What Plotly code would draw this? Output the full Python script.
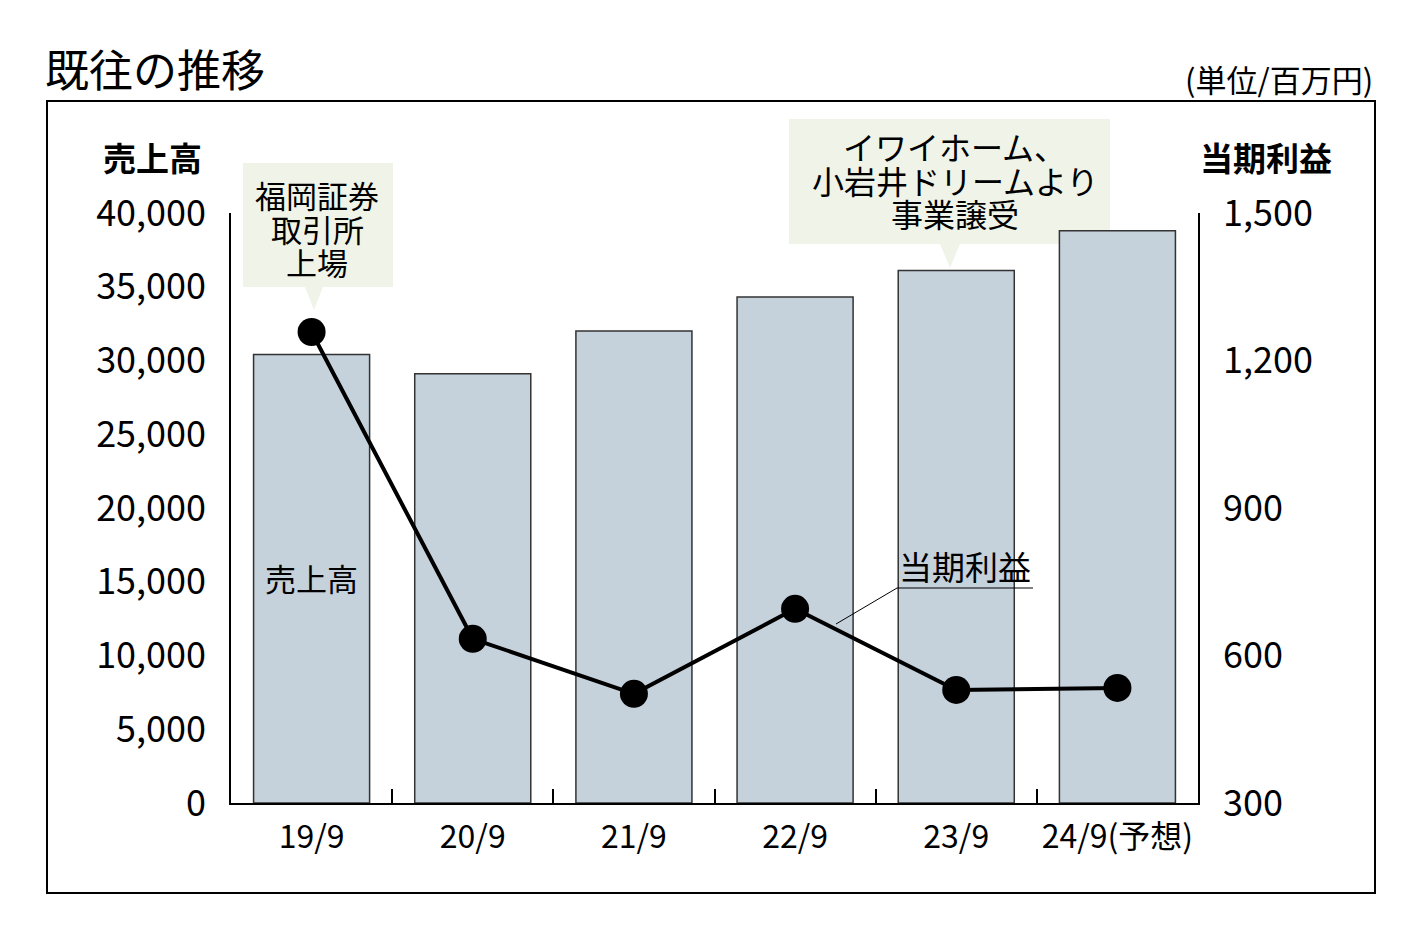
import plotly.graph_objects as go

categories = ["19/9", "20/9", "21/9", "22/9", "23/9", "24/9(予想)"]
sales = [30400, 29100, 32000, 34300, 36100, 38800]
profit = [1258, 634, 522, 695, 530, 534]
left_ticks = [0, 5000, 10000, 15000, 20000, 25000, 30000, 35000, 40000]
right_ticks = [300, 600, 900, 1200, 1500]

OFF = 8  # default page body margin
W, H = 1417 - 2 * OFF, 943 - 2 * OFF
FONT = "Noto Sans CJK JP"

def px(x):
    return (x - OFF) / W

def py(y):
    return 1 - (y - OFF) / H

fig = go.Figure()
fig.add_trace(go.Bar(
    x=categories, y=sales, width=0.72,
    marker=dict(color="rgb(197,209,219)", line=dict(color="#333333", width=1.5)),
    showlegend=False, hoverinfo="skip"))
fig.add_trace(go.Scatter(
    x=categories, y=profit, yaxis="y2", mode="lines+markers",
    line=dict(color="black", width=4),
    marker=dict(color="black", size=28),
    showlegend=False, hoverinfo="skip"))

fig.update_layout(
    width=W, height=H,
    margin=dict(l=0, r=0, t=0, b=0),
    paper_bgcolor="white", plot_bgcolor="white",
    font=dict(family=FONT, color="black"),
    xaxis=dict(domain=[px(231), px(1198)], showline=True, linecolor="black", linewidth=2,
               ticks="inside", tickson="boundaries", ticklen=14, tickcolor="black", tickwidth=1.5,
               tickfont=dict(size=32, family=FONT), ticklabelstandoff=5, tickangle=0,
               showgrid=False, automargin=False),
    yaxis=dict(domain=[py(803), py(213)], range=[0, 40000], tickvals=left_ticks,
               ticktext=[f"{v:,}" for v in left_ticks], showline=True, linecolor="black",
               linewidth=1.5, ticks="", showgrid=False, zeroline=False,
               tickfont=dict(size=36, family=FONT), ticklabelstandoff=16, automargin=False),
    yaxis2=dict(overlaying="y", side="right", range=[300, 1500], tickvals=right_ticks,
                ticktext=[f"{v:,}" for v in right_ticks], showline=True, linecolor="black",
                linewidth=1.5, ticks="", showgrid=False, zeroline=False,
                tickfont=dict(size=36, family=FONT), ticklabelstandoff=16, automargin=False),
)

shapes = []
# outer frame
shapes.append(dict(type="rect", xref="paper", yref="paper", x0=px(47), x1=px(1375),
                   y0=py(893), y1=py(101), line=dict(color="black", width=2)))
callout_fill = "rgb(240,244,232)"
# callout 1
shapes.append(dict(type="path", xref="paper", yref="paper",
                   path=f"M {px(243)},{py(163)} L {px(393)},{py(163)} L {px(393)},{py(287)} "
                        f"L {px(323)},{py(287)} L {px(314)},{py(310)} L {px(305)},{py(287)} "
                        f"L {px(243)},{py(287)} Z",
                   fillcolor=callout_fill, line=dict(width=0), layer="below"))
# callout 2
shapes.append(dict(type="path", xref="paper", yref="paper",
                   path=f"M {px(789)},{py(119)} L {px(1110)},{py(119)} L {px(1110)},{py(244)} "
                        f"L {px(960)},{py(244)} L {px(950)},{py(268)} L {px(940)},{py(244)} "
                        f"L {px(789)},{py(244)} Z",
                   fillcolor=callout_fill, line=dict(width=0), layer="below"))
# underline + leader for 当期利益
shapes.append(dict(type="line", xref="paper", yref="paper", x0=px(897), x1=px(1033),
                   y0=py(588), y1=py(588), line=dict(color="black", width=1)))
shapes.append(dict(type="line", xref="paper", yref="paper", x0=px(897), x1=px(836),
                   y0=py(588), y1=py(624), line=dict(color="black", width=1)))
fig.update_layout(shapes=shapes)

ann = []
def text(x, y, s, size, anchor="center", weight="normal"):
    ann.append(dict(x=px(x), y=py(y), xref="paper", yref="paper", text=s, showarrow=False,
                    xanchor=anchor, yanchor="middle", borderpad=0,
                    font=dict(size=size, family=FONT, color="black", weight=weight)))

text(44, 68, "既往の推移", 44, anchor="left")
text(1374, 78, "(単位/百万円)", 31, anchor="right")
text(152, 157, "売上高", 33, weight="bold")
text(1266, 157, "当期利益", 33, weight="bold")
for s, y in zip(["福岡証券", "取引所", "上場"], [194, 228, 261]):
    text(317, y, s, 31)
for s, y in zip(["イワイホーム、", "小岩井ドリームより", "事業譲受"], [146, 180, 213]):
    text(955, y, s, 32)
text(311, 577, "売上高", 31)
text(965, 566, "当期利益", 33)
fig.update_layout(annotations=ann)

fig.write_html("out.html")
